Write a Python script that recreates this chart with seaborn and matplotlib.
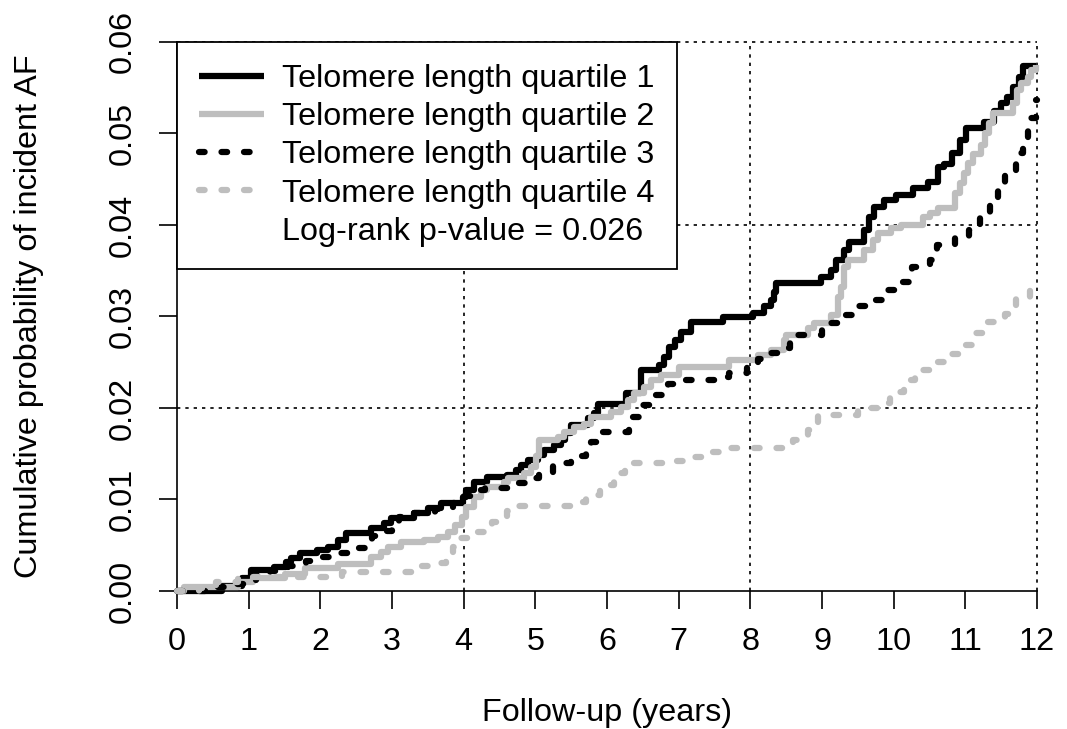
import matplotlib
matplotlib.use("Agg")
import matplotlib.pyplot as plt
from matplotlib.lines import Line2D
import seaborn as sns

# Kaplan-Meier style cumulative incidence
q1_time = [0, 0.63, 0.9, 1.03, 1.35, 1.52, 1.59, 1.71, 1.96, 2.1, 2.24, 2.36, 2.71, 2.89, 2.99,
           3.31, 3.5, 3.68, 3.99, 4.03, 4.14, 4.33, 4.6, 4.73, 4.8, 4.9, 5.04, 5.12, 5.26, 5.36,
           5.42, 5.5, 5.73, 5.82, 5.87, 6.27, 6.47, 6.73, 6.8, 6.87, 6.95, 7.03, 7.17, 7.62, 8.04,
           8.19, 8.29, 8.33, 8.36, 8.99, 9.12, 9.2, 9.3, 9.38, 9.59, 9.66, 9.73, 9.87, 10.03, 10.27,
           10.48, 10.62, 10.7, 10.82, 10.92, 11.01, 11.26, 11.4, 11.5, 11.58, 11.66, 11.75, 11.8, 11.99]
q1_prob = [0, 0.0005, 0.0014, 0.0023, 0.0026, 0.0032, 0.0036, 0.0042, 0.0045, 0.0048, 0.0056, 0.0063,
           0.0069, 0.0074, 0.0080, 0.0085, 0.0091, 0.0096, 0.0103, 0.0110, 0.0119, 0.0125, 0.0127,
           0.0132, 0.0138, 0.0143, 0.0149, 0.0154, 0.0160, 0.0165, 0.0173, 0.0181, 0.0189, 0.0194,
           0.0204, 0.0216, 0.0242, 0.0247, 0.0256, 0.0267, 0.0274, 0.0283, 0.0294, 0.0299, 0.0304,
           0.0311, 0.0318, 0.0327, 0.0337, 0.0343, 0.0351, 0.0362, 0.0373, 0.0381, 0.0395, 0.0409,
           0.0420, 0.0427, 0.0433, 0.0440, 0.0447, 0.0463, 0.0467, 0.0479, 0.0493, 0.0506, 0.0513,
           0.0524, 0.0533, 0.0540, 0.0551, 0.0562, 0.0574, 0.0574]

q2_time = [0, 0.1, 0.85, 1.06, 1.5, 1.78, 2.24, 2.71, 2.85, 2.94, 3.13, 3.45, 3.64, 3.78, 3.88,
           3.97, 4.03, 4.14, 4.24, 4.33, 4.56, 4.62, 4.84, 4.94, 5.01, 5.05, 5.32, 5.4, 5.54, 5.68,
           5.78, 6.06, 6.2, 6.29, 6.38, 6.52, 6.61, 6.75, 7.0, 7.7, 8.1, 8.29, 8.47, 8.5, 8.8,
           8.89, 9.13, 9.22, 9.27, 9.31, 9.36, 9.58, 9.71, 9.78, 9.96, 10.1, 10.41, 10.5, 10.62, 10.86,
           10.92, 10.98, 11.03, 11.1, 11.22, 11.27, 11.33, 11.38, 11.66, 11.72, 11.78, 11.87, 11.92, 11.99]
q2_prob = [0, 0.0004, 0.0010, 0.0014, 0.0019, 0.0025, 0.0030, 0.0037, 0.0043, 0.0048, 0.0054, 0.0056,
           0.0059, 0.0065, 0.0072, 0.0081, 0.0092, 0.0103, 0.0110, 0.0114, 0.0119, 0.0123, 0.0129,
           0.0136, 0.0147, 0.0165, 0.0168, 0.0174, 0.0179, 0.0183, 0.0190, 0.0196, 0.0201, 0.0209,
           0.0216, 0.0223, 0.0231, 0.0236, 0.0245, 0.0252, 0.0258, 0.0263, 0.0274, 0.0280, 0.0287,
           0.0293, 0.0302, 0.0321, 0.0332, 0.0354, 0.0362, 0.0373, 0.0384, 0.0391, 0.0397, 0.0400,
           0.0409, 0.0413, 0.0419, 0.0435, 0.0446, 0.0457, 0.0468, 0.0477, 0.0487, 0.0500, 0.0511,
           0.0522, 0.0533, 0.0548, 0.0555, 0.0562, 0.0569, 0.0575]

q3_time = [0, 0.55, 0.75, 0.95, 1.1, 1.3, 1.55, 1.8, 1.95, 2.2, 2.4, 2.62, 2.72, 2.85, 3.0,
           3.1, 3.3, 3.6, 3.85, 4.0, 4.1, 4.3, 4.75, 4.85, 5.05, 5.25, 5.35, 5.5, 5.7, 5.78,
           5.88, 6.3, 6.35, 6.5, 6.65, 6.85, 7.0, 7.5, 7.7, 7.95, 8.1, 8.15, 8.5, 8.55, 9.0,
           9.05, 9.25, 9.45, 9.7, 9.9, 10.1, 10.25, 10.5, 10.6, 10.85, 11.05, 11.2, 11.35, 11.45, 11.55,
           11.7, 11.8, 11.88, 11.98, 12.0]
q3_prob = [0, 0.0004, 0.0008, 0.0012, 0.0018, 0.0022, 0.0027, 0.0033, 0.0037, 0.0042, 0.0047, 0.0053,
           0.0060, 0.0066, 0.0075, 0.0081, 0.0085, 0.0090, 0.0096, 0.0104, 0.0110, 0.0113, 0.0118,
           0.0123, 0.0130, 0.0137, 0.0140, 0.0147, 0.0157, 0.0163, 0.0174, 0.0183, 0.0190, 0.0203,
           0.0214, 0.0226, 0.0231, 0.0234, 0.0238, 0.0245, 0.0253, 0.0260, 0.0266, 0.0280, 0.0285,
           0.0293, 0.0302, 0.0311, 0.0318, 0.0329, 0.0338, 0.0354, 0.0362, 0.0378, 0.0386, 0.0395,
           0.0409, 0.0425, 0.0446, 0.0458, 0.0479, 0.0495, 0.0517, 0.0537, 0.0537]

q4_time = [0, 0.3, 0.55, 0.85, 2.3, 3.3, 3.55, 3.75, 3.85, 3.95, 4.2, 4.4, 4.6, 4.75, 5.5,
           5.7, 5.9, 6.1, 6.25, 6.9, 7.2, 7.45, 7.7, 8.6, 8.8, 8.95, 9.5, 9.8, 9.95, 10.15,
           10.3, 10.55, 10.8, 11.0, 11.15, 11.3, 11.55, 11.7, 11.9, 11.98, 12.0]
q4_prob = [0, 0.0003, 0.0010, 0.0015, 0.0021, 0.0027, 0.0031, 0.0038, 0.0048, 0.0058, 0.0064, 0.0075,
           0.0087, 0.0093, 0.0097, 0.0105, 0.0116, 0.0129, 0.0140, 0.0142, 0.0146, 0.0152, 0.0156,
           0.0165, 0.0176, 0.0192, 0.0200, 0.0205, 0.0218, 0.0231, 0.0242, 0.0250, 0.0259, 0.0269,
           0.0282, 0.0294, 0.0303, 0.0319, 0.0331, 0.0335, 0.0335]

labels = ["Telomere length quartile 1", "Telomere length quartile 2",
          "Telomere length quartile 3", "Telomere length quartile 4"]
pvalue_text = "Log-rank p-value = 0.026"
x_ticks = list(range(0, 13))
y_ticks = [0.00, 0.01, 0.02, 0.03, 0.04, 0.05, 0.06]

sns.set_style("ticks")
plt.rcParams["font.family"] = ["Liberation Sans", "DejaVu Sans"]
plt.rcParams["text.color"] = "black"
plt.rcParams["axes.labelcolor"] = "black"
plt.rcParams["axes.edgecolor"] = "black"
plt.rcParams["xtick.color"] = "black"
plt.rcParams["ytick.color"] = "black"
FS = 23.3
GRAY = "#BEBEBE"

fig = plt.figure(figsize=(10.67, 7.29), dpi=100)
ax = fig.add_axes([0.1659, 0.1893, 0.8094, 0.7582])

# dotted reference grid (only at 4, 8, 12 and 0.02, 0.04, 0.06)
ax.vlines([4, 8, 12], 0, 0.06, colors="black", lw=1.2, linestyles=(0, (2, 3)), zorder=1)
ax.hlines([0.02, 0.04, 0.06], 0, 12, colors="black", lw=1.2, linestyles=(0, (2, 3)), zorder=1)

dotted = (0, (0.9, 2.7))
series = [
    (q1_time, q1_prob, "black", "-"),
    (q2_time, q2_prob, GRAY, "-"),
    (q3_time, q3_prob, "black", dotted),
    (q4_time, q4_prob, GRAY, dotted),
]
for (t, p, col, ls), lab in zip(series, labels):
    sns.lineplot(x=t, y=p, ax=ax, color=col, linestyle=ls, linewidth=4.5,
                 drawstyle="steps-post", estimator=None, sort=False,
                 dash_capstyle="round", solid_capstyle="butt",
                 clip_on=False, label=lab, zorder=3)

ax.set_xlim(0, 12.05)
ax.set_ylim(0, 0.0604)
ax.set_xticks(x_ticks)
ax.set_yticks(y_ticks)
ax.set_yticklabels([f"{v:.2f}" for v in y_ticks], rotation=90, va="center")
ax.tick_params(axis="both", direction="out", length=13.0, width=1.2, labelsize=FS)
ax.tick_params(axis="x", pad=13)
ax.tick_params(axis="y", pad=15.5)

for side in ["top", "right"]:
    ax.spines[side].set_visible(False)
for side in ["left", "bottom"]:
    ax.spines[side].set_linewidth(1.2)
ax.spines["left"].set_bounds(0, 0.06)
ax.spines["bottom"].set_bounds(0, 12)

ax.set_xlabel("")
ax.set_ylabel("")
fig.text(607 / 1067, 1 - 713 / 729, "Follow-up (years)", fontsize=FS,
         ha="center", va="center")
fig.text(29 / 1067, 1 - 316 / 729, "Cumulative probability of incident AF", fontsize=FS,
         ha="center", va="center", rotation=90)

handles = list(ax.get_lines()[:4]) + [Line2D([], [], linestyle="none")]
leg = ax.legend(handles=handles, labels=labels + [pvalue_text],
                loc="upper left", bbox_to_anchor=(0, 0.06), bbox_transform=ax.transData,
                borderaxespad=0, fontsize=FS, handlelength=2.0, handletextpad=0.55,
                borderpad=0.69, labelspacing=0.25, fancybox=False, framealpha=1,
                edgecolor="black", facecolor="white")
leg.get_frame().set_linewidth(1.3)
leg.set_zorder(5)

plt.savefig("out.png", dpi=100)
plt.close()
